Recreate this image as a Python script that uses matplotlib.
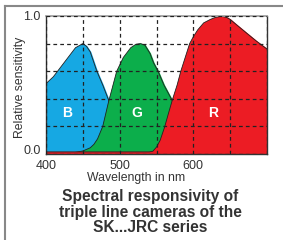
import matplotlib.pyplot as plt
from matplotlib.lines import Line2D

plt.rcParams['font.family'] = ['Liberation Sans', 'DejaVu Sans']

# sensor curves (wavelength in nm, relative sensitivity)
blue_wl = [400, 410, 420, 430, 440, 450, 455, 460, 469, 477, 485, 490, 495, 500]
blue_val = [0.51, 0.56, 0.63, 0.70, 0.77, 0.80, 0.78, 0.74, 0.60, 0.50, 0.39, 0.25, 0.08, 0.0]

green_wl = [420, 430, 440, 450, 460, 465, 470, 477, 485, 490, 496, 505, 515, 522, 528,
            534, 541, 546, 552, 560, 571, 580, 590, 600]
green_val = [0.0, 0.005, 0.012, 0.022, 0.045, 0.07, 0.11, 0.20, 0.38, 0.48, 0.60, 0.70,
             0.77, 0.795, 0.80, 0.79, 0.73, 0.66, 0.60, 0.50, 0.39, 0.22, 0.06, 0.0]

red_wl = [400, 540, 545, 550, 555, 561, 566, 572, 578, 583, 589, 595, 600, 606, 614,
          623, 630, 638, 645, 650, 660, 672, 685, 700]
red_val = [0.015, 0.015, 0.02, 0.05, 0.10, 0.195, 0.29, 0.40, 0.50, 0.60, 0.70, 0.80,
           0.85, 0.90, 0.95, 0.975, 0.99, 0.998, 0.99, 0.975, 0.93, 0.877, 0.82, 0.76]

bands = [('B', blue_wl, blue_val, '#16A8E3', 428),
         ('G', green_wl, green_val, '#0CAE4B', 523),
         ('R', red_wl, red_val, '#EC1C24', 627)]

x_ticks = [400, 450, 500, 550, 600, 650, 700]
x_labels = ['400', '', '500', '', '600', '', '']
y_ticks = [0.0, 0.2, 0.4, 0.6, 0.8, 1.0]
y_labels = ['0.0', '', '', '', '', '1.0']

fig = plt.figure(figsize=(2.83, 2.4), dpi=100)
ax = fig.add_axes([46 / 283, 1 - 154 / 240, 221 / 283, 138 / 240])

for name, wl, val, col, lx in bands:
    ax.fill_between(wl, 0, val, color=col, zorder=2)
    ax.plot(wl, val, color='#222222', lw=0.6, zorder=2)
    ax.text(lx, 0.30, name, color='white', fontsize=10, fontweight='bold',
            ha='center', va='center', zorder=4)

ax.set_xlim(400, 700)
ax.set_ylim(0, 1.0)
ax.set_xticks(x_ticks)
ax.set_xticklabels(x_labels)
ax.set_yticks(y_ticks)
ax.set_yticklabels(y_labels)
ax.get_yticklabels()[0].set_va('baseline')  # "0.0" sits a bit above the axis
ax.tick_params(length=0, labelsize=9, colors='#333333', pad=4)
ax.grid(True, color='#222222', lw=0.9, ls=(0, (3, 2.5)), zorder=3)
ax.set_axisbelow(False)

ax.spines['top'].set_color('#999999')
ax.spines['top'].set_linewidth(1.2)
for s in ['left', 'right', 'bottom']:
    ax.spines[s].set_color('#333333')
    ax.spines[s].set_linewidth(1.0)

ax.set_xlabel('Wavelength in nm', fontsize=8.8, color='#333333')
ax.xaxis.set_label_coords(0.407, -0.132)
ax.set_ylabel('Relative sensitivity', fontsize=8.8, color='#333333')
ax.yaxis.set_label_coords(-0.09, 0.48)

fig.text(150 / 283, 1 - 212 / 240,
         'Spectral responsivity of\ntriple line cameras of the\nSK...JRC series',
         ha='center', va='center', fontsize=11.2, fontweight='bold', color='#333333',
         linespacing=1.0)

# frame around the figure (top and left edges only)
fig.add_artist(Line2D([5 / 283, 1], [1 - 5.5 / 240, 1 - 5.5 / 240], color='#888888', lw=1.5))
fig.add_artist(Line2D([4.5 / 283, 4.5 / 283], [0, 1 - 5.5 / 240], color='#888888', lw=1.5))

fig.savefig('out.png', dpi=100)
